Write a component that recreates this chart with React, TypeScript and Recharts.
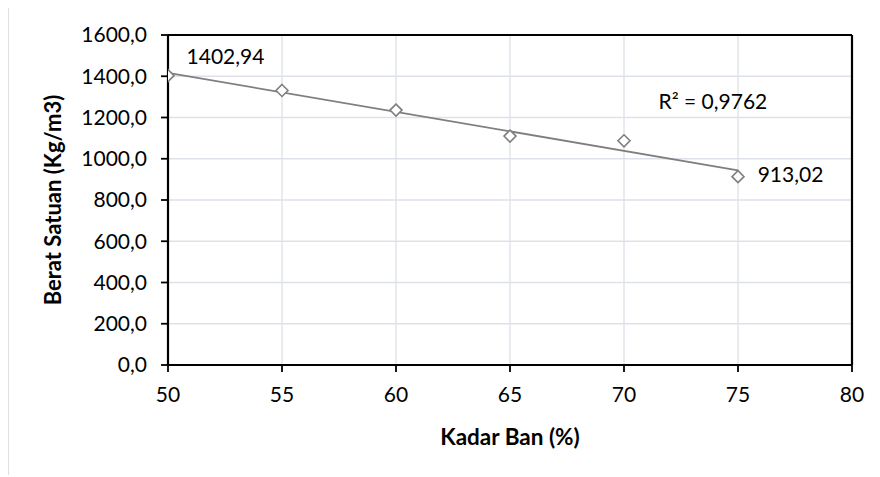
import React from "react";
import {
  ComposedChart,
  Scatter,
  Line,
  XAxis,
  YAxis,
  CartesianGrid,
  ReferenceLine,
  ReferenceDot,
  LabelList,
} from "recharts";

const kadarBan = [50, 55, 60, 65, 70, 75];
const beratSatuan = [1402.94, 1331, 1236, 1110, 1087, 913.02];
const xTicks = [50, 55, 60, 65, 70, 75, 80];
const yTicks = [0, 200, 400, 600, 800, 1000, 1200, 1400, 1600];
const pointLabels = ["1402,94", "", "", "", "", "913,02"];
const r2Text = "R\u00B2 = 0,9762";

const points = kadarBan.map((x, i) => ({ x, y: beratSatuan[i], label: pointLabels[i] }));

// least-squares linear trendline computed from the data
const n = kadarBan.length;
const mx = kadarBan.reduce((a, b) => a + b, 0) / n;
const my = beratSatuan.reduce((a, b) => a + b, 0) / n;
let sxy = 0;
let sxx = 0;
for (let i = 0; i < n; i++) {
  sxy += (kadarBan[i] - mx) * (beratSatuan[i] - my);
  sxx += (kadarBan[i] - mx) ** 2;
}
const slope = sxy / sxx;
const intercept = my - slope * mx;
const trend = [kadarBan[0], kadarBan[n - 1]].map((x) => ({ x, y: intercept + slope * x }));

const FONT = "Lato, 'Open Sans', sans-serif";
const GRAY = "#7f7f7f";

const Diamond = (props: any) => {
  const { cx, cy } = props;
  if (cx == null || cy == null) return null;
  const r = 6;
  return (
    <path
      d={`M${cx},${cy - r}L${cx + r},${cy}L${cx},${cy + r}L${cx - r},${cy}Z`}
      fill="#fff"
      stroke={GRAY}
      strokeWidth={1.6}
    />
  );
};

const PointLabel = (props: any) => {
  const { x, y, value, index } = props;
  if (!value) return null;
  const first = index === 0;
  const dx = first ? 62 : 57;
  const dy = first ? -16 : 1;
  return (
    <text
      x={x + dx}
      y={y + dy}
      textAnchor="middle"
      dominantBaseline="central"
      fontFamily={FONT}
      fontSize={21}
      fill="#000"
    >
      {value}
    </text>
  );
};

const fmt = (v: number) => v.toFixed(1).replace(".", ",");

export default function App() {
  return (
    <div
      style={{
        position: "relative",
        width: 872,
        height: 469,
        borderTop: "1px solid #dde1e6",
        borderLeft: "1px solid #dde1e6",
        boxSizing: "border-box",
        marginTop: -2,
      }}
    >
      <ComposedChart
        width={864}
        height={461}
        margin={{ top: 29, right: 20, left: 60, bottom: 72 }}
        style={{ position: "absolute", left: -1, top: -1 }}
      >
        <CartesianGrid stroke="#dde1e9" strokeWidth={1.3} />
        <XAxis
          type="number"
          dataKey="x"
          domain={[50, 80]}
          ticks={xTicks}
          interval={0}
          allowDataOverflow
          height={30}
          tick={{ fontFamily: FONT, fontSize: 21, fill: "#000" }}
          tickSize={7}
          tickMargin={15}
          axisLine={{ stroke: "#000", strokeWidth: 2.2 }}
          tickLine={{ stroke: "#000", strokeWidth: 1.8 }}
          label={{
            value: "Kadar Ban (%)",
            position: "bottom",
            offset: 34,
            style: { fontFamily: FONT, fontSize: 22.5, fontWeight: 700, fill: "#000" },
          }}
        />
        <YAxis
          type="number"
          dataKey="y"
          domain={[0, 1600]}
          ticks={yTicks}
          interval={0}
          allowDataOverflow
          width={100}
          tickFormatter={fmt}
          tick={{ fontFamily: FONT, fontSize: 21, fill: "#000" }}
          tickSize={7}
          tickMargin={14}
          axisLine={{ stroke: "#000", strokeWidth: 2.2 }}
          tickLine={{ stroke: "#000", strokeWidth: 1.8 }}
          label={{
            value: "Berat Satuan (Kg/m3)",
            angle: -90,
            position: "insideLeft",
            offset: -15,
            style: { fontFamily: FONT, fontSize: 22, fontWeight: 700, fill: "#000", textAnchor: "middle" },
          }}
        />
        <ReferenceLine y={1600} stroke="#000" strokeWidth={2.2} />
        <ReferenceLine x={80} stroke="#000" strokeWidth={2.2} />
        <Line
          data={trend}
          dataKey="y"
          type="linear"
          stroke={GRAY}
          strokeWidth={1.8}
          dot={false}
          activeDot={false}
          isAnimationActive={false}
          legendType="none"
        />
        <Scatter data={points} shape={<Diamond />} isAnimationActive={false}>
          <LabelList dataKey="label" content={<PointLabel />} />
        </Scatter>
        <ReferenceDot
          x={73.9}
          y={1278}
          r={0}
          stroke="none"
          fill="none"
          label={{
            value: r2Text,
            position: "center",
            style: { fontFamily: FONT, fontSize: 21, fill: "#000" },
          }}
        />
      </ComposedChart>
    </div>
  );
}
